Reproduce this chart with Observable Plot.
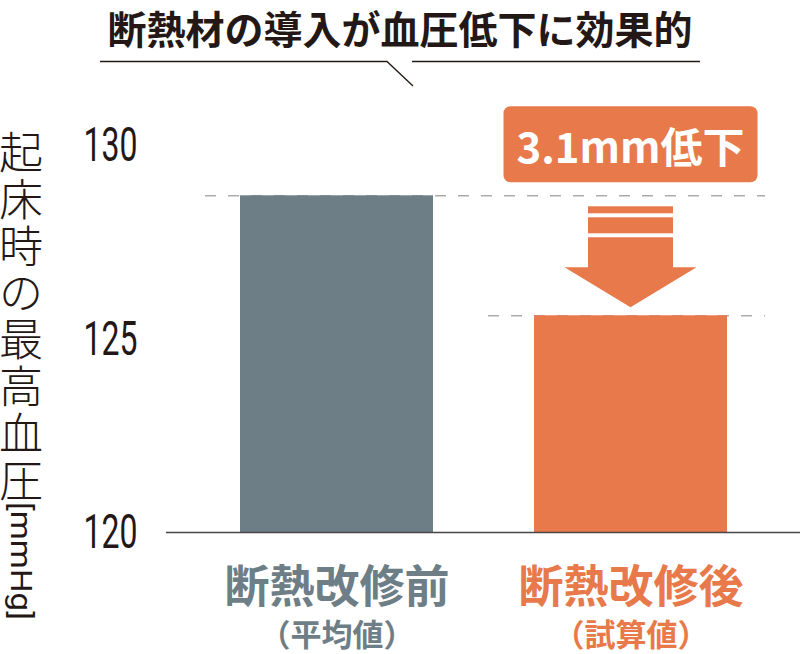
<!DOCTYPE html>
<html><head><meta charset="utf-8">
<script src="https://cdn.jsdelivr.net/npm/d3@7"></script>
<script src="https://cdn.jsdelivr.net/npm/@observablehq/plot@0.6"></script>
<style>body{margin:0;background:#fff} svg{display:block}</style>
</head><body><div id="chart"></div>
<script>
const categories = ["断熱改修前", "断熱改修後"];
const subLabels = ["（平均値）", "（試算値）"];
const values = [128.7, 125.6];
const colors = ["#6e7e86", "#e8794a"];
const yTicks = [120, 125, 130];
const yDomain = [120, 130];
const title = "断熱材の導入が血圧低下に効果的";
const yLabel = "起床時の最高血圧";
const yUnit = "[mmHg]";
const dropLabel = "3.1mm低下";

const data = categories.map((c, i) => ({category: c, sub: subLabels[i], value: values[i]}));
const jp = "'Noto Sans CJK JP', 'Noto Sans', sans-serif";
const ink = "#231815";

const chart = Plot.plot({
  width: 800, height: 654,
  marginTop: 145, marginBottom: 122, marginLeft: 166, marginRight: 0,
  x: {domain: categories, paddingInner: 0.345, paddingOuter: 0.25, axis: null},
  y: {domain: yDomain, axis: null},
  color: {domain: categories, range: colors},
  style: {fontFamily: jp, background: "#fff", overflow: "visible"},
  marks: [
    Plot.ruleY([values[0]], {stroke: "#ababab", strokeWidth: 1.6, strokeDasharray: "11,12", insetLeft: 39, insetRight: 35}),
    Plot.ruleY([values[1]], {stroke: "#ababab", strokeWidth: 1.6, strokeDasharray: "11,12", insetLeft: 322, insetRight: 35}),
    Plot.barY(data, {x: "category", y1: yDomain[0], y2: "value", fill: "category"}),
    Plot.ruleY([yDomain[0]], {stroke: "#4a4546", strokeWidth: 1.6}),
    Plot.axisY(yTicks, {label: null, tickSize: 0, tickPadding: 29, fontSize: 49, fontWeight: 400, fontFamily: "Roboto, 'Liberation Sans', sans-serif", color: ink, tickFormat: d => String(d)}),
    Plot.text(data, {x: "category", y: yDomain[0], text: "category", dy: 56, fontSize: 45, fontWeight: "bold", fill: "category"}),
    Plot.text(data, {x: "category", y: yDomain[0], text: "sub", dy: 104, fontSize: 31, fontWeight: "bold", fill: "category"})
  ]
});
document.getElementById("chart").appendChild(chart);

const svg = d3.select(chart);
// condense the tick numbers like the reference typeface
svg.selectAll('g[aria-label="y-axis tick label"] text').attr("textLength", 54).attr("lengthAdjust", "spacingAndGlyphs");

const xs = chart.scale("x"), ys = chart.scale("y");
const bw = xs.bandwidth;
const cx = xs.apply(categories[1]) + bw / 2;
const yTop = ys.apply(values[0]), yBot = ys.apply(values[1]);

// Title and speech-bubble line
svg.append("text").attr("x", 400).attr("y", 27).attr("text-anchor", "middle").attr("dominant-baseline", "central")
  .attr("font-size", 39).attr("font-weight", "bold").attr("fill", ink).attr("font-family", jp).text(title);
svg.append("path").attr("d", "M100,61.5H387L413,86M412,61.5H700").attr("fill", "none").attr("stroke", ink).attr("stroke-width", 1.3);

// Y label (vertical, one upright character per line, unit turned sideways)
const yl = svg.append("text").attr("font-family", jp).attr("font-size", 44).attr("font-weight", 300).attr("fill", ink)
  .attr("text-anchor", "middle").attr("dominant-baseline", "central");
Array.from(yLabel).forEach((ch, i) => {
  yl.append("tspan").attr("x", 21).attr("y", 150 + i * 46.8).text(ch);
});
svg.append("text").attr("transform", "translate(21,561) rotate(90)")
  .attr("font-family", "Roboto, 'Liberation Sans', sans-serif").attr("font-size", 30).attr("font-weight", 400).attr("fill", ink)
  .attr("text-anchor", "middle").attr("dominant-baseline", "central")
  .attr("textLength", 118).attr("lengthAdjust", "spacingAndGlyphs").text(yUnit);

// Drop label box
const boxW = 254, boxH = 76, boxBottom = yTop - 13;
svg.append("rect").attr("x", cx - boxW / 2).attr("y", boxBottom - boxH).attr("width", boxW).attr("height", boxH)
  .attr("rx", 7).attr("fill", colors[1]);
svg.append("text").attr("x", cx).attr("y", boxBottom - boxH / 2).attr("text-anchor", "middle").attr("dominant-baseline", "central")
  .attr("font-size", 42).attr("font-weight", "bold").attr("fill", "#fff").attr("font-family", jp).text(dropLabel);

// Arrow
const sw = 85, hw = 132, aTop = yTop + 11, tip = yBot - 8, headH = 40;
svg.append("rect").attr("x", cx - sw / 2).attr("y", aTop).attr("width", sw).attr("height", 7).attr("fill", colors[1]);
svg.append("rect").attr("x", cx - sw / 2).attr("y", aTop + 11).attr("width", sw).attr("height", 16).attr("fill", colors[1]);
const sTop = aTop + 31, hy = tip - headH;
svg.append("path").attr("fill", colors[1]).attr("d",
  `M${cx - sw / 2},${sTop}H${cx + sw / 2}V${hy}H${cx + hw / 2}L${cx},${tip}L${cx - hw / 2},${hy}H${cx - sw / 2}Z`);
</script></body></html>
